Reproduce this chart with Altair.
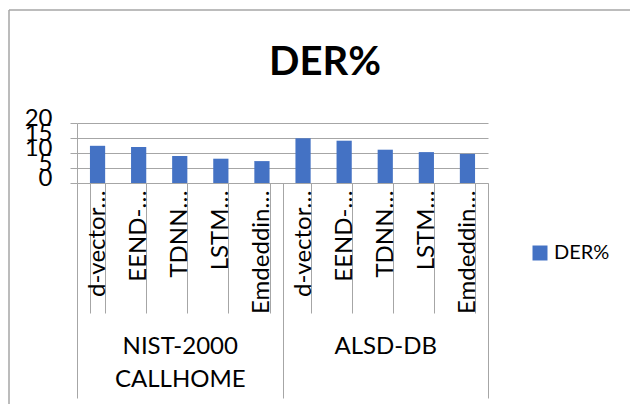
import altair as alt
import pandas as pd

# ---- data ----
methods = ["d-vector…", "EEND-…", "TDNN…", "LSTM…", "Emdeddin…"]
group_names = ["NIST-2000|CALLHOME", "ALSD-DB"]
nist_values = [12.4, 12.0, 9.0, 8.1, 7.3]
alsd_values = [14.9, 14.1, 11.1, 10.3, 9.7]
series_name = "DER%"
y_ticks = [0, 5, 10, 15, 20]

BLUE = "#4472C4"
GREY = "#A6A6A6"
FONT = "Lato"

rows = []
for gi, (g, vals) in enumerate(zip(group_names, [nist_values, alsd_values])):
    for mi, (m, v) in enumerate(zip(methods, vals)):
        rows.append({"key": f"{gi}{mi}|{m}", "group": g, "method": m,
                     "value": v, "series": series_name})
df = pd.DataFrame(rows)
keys = list(df["key"])
gdf = pd.DataFrame({"group": group_names})
one = pd.DataFrame({"t": [series_name]})

bars = alt.Chart(df).mark_bar(color=BLUE).encode(
    x=alt.X("key:N", sort=keys,
            scale=alt.Scale(paddingInner=0.63, paddingOuter=0.315),
            axis=alt.Axis(orient="bottom", title=None,
                          labelExpr="isValid(datum.value) ? split(datum.value, '|')[1] : ''",
                          labelAngle=-90, labelFontSize=24, labelFont=FONT,
                          labelColor="black", labelPadding=-123, labelLimit=300,
                          labelOverlap=False,
                          tickBand="extent", tickSize=130, tickColor=GREY,
                          domainColor=GREY, grid=False)),
    y=alt.Y("value:Q", scale=alt.Scale(domain=[0, 20], nice=False),
            axis=alt.Axis(values=y_ticks, title=None, tickSize=7,
                          labelFontSize=24, labelFont=FONT, labelColor="black",
                          labelPadding=18, labelOffset=-5, labelOverlap=False,
                          gridColor=GREY, tickColor=GREY,
                          domainColor=GREY, grid=True)),
    color=alt.Color("series:N", scale=alt.Scale(range=[BLUE]),
                    legend=alt.Legend(title=None, orient="none", legendX=453,
                                      legendY=120, symbolType="square",
                                      symbolSize=225, symbolStrokeWidth=0,
                                      labelFontSize=20, labelFont=FONT,
                                      labelColor="black", labelOffset=4)),
)

groups = alt.Chart(gdf).mark_point(opacity=0).encode(
    x=alt.X("group:N", sort=group_names,
            scale=alt.Scale(type="band", paddingInner=0, paddingOuter=0),
            axis=alt.Axis(orient="bottom", title=None,
                          labelExpr="isValid(datum.value) ? split(datum.value, '|') : ''",
                          labelAngle=0, labelFontSize=24, labelFont=FONT,
                          labelColor="black", labelPadding=-64,
                          labelLineHeight=33, labelOverlap=False,
                          tickBand="extent", tickSize=215, tickColor=GREY,
                          domain=False, grid=False)),
)

title = alt.Chart(one).mark_text(
    font=FONT, fontSize=40, fontWeight="bold", align="center",
    baseline="alphabetic", color="black"
).encode(text="t:N", x=alt.value(248), y=alt.value(-48))

frame_top = alt.Chart(one).mark_rule(color=GREY, strokeWidth=1.5).encode(
    x=alt.value(-68), x2=alt.value(560), y=alt.value(-113))
frame_left = alt.Chart(one).mark_rule(color=GREY, strokeWidth=1.5).encode(
    x=alt.value(-68), y=alt.value(-113), y2=alt.value(290))

chart = alt.layer(bars, groups, title, frame_top, frame_left).resolve_scale(
    x="independent"
).properties(
    width=411, height=60, autosize="none",
    padding={"left": 77, "top": 123, "right": 142, "bottom": 221},
).configure_view(stroke=None)

chart.save("out.html", embed_options={"renderer": "svg", "actions": False})
